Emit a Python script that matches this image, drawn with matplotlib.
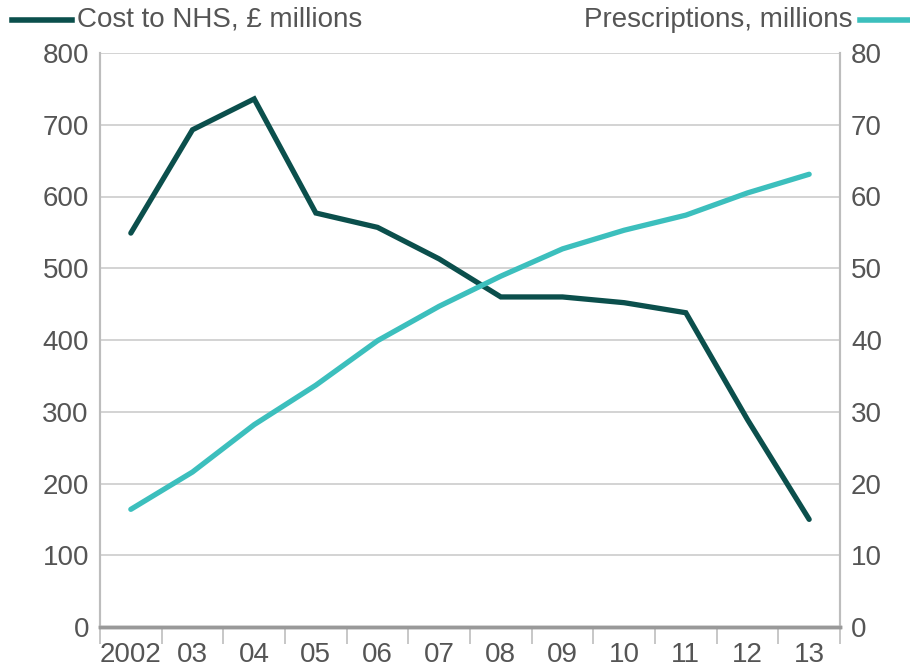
import matplotlib
matplotlib.use("Agg")
import matplotlib.pyplot as plt
import numpy as np

plt.rcParams['font.family'] = ['Liberation Sans', 'DejaVu Sans']

years = ["2002", "03", "04", "05", "06", "07", "08", "09", "10", "11", "12", "13"]
cost = [549, 693, 736, 577, 557, 513, 460, 460, 452, 438, 289, 150]
prescriptions = [16.4, 21.6, 28.2, 33.7, 39.9, 44.7, 48.9, 52.7, 55.3, 57.4, 60.5, 63.1]

dark = "#0b4f4c"
light = "#3cbfbd"
grey_text = "#555555"
axis_grey = "#bdbdbd"
fs = 20

fig = plt.figure(figsize=(9.1, 6.71), dpi=100)
ax = fig.add_axes([100 / 910, 1 - 627 / 671, 740 / 910, 574 / 671])
ax2 = ax.twinx()

x = np.arange(len(years))
ax.plot(x, cost, color=dark, lw=3.8, solid_capstyle="round", solid_joinstyle="miter", zorder=3)
ax2.plot(x, prescriptions, color=light, lw=3.8, solid_capstyle="round", zorder=3)

ax.set_xlim(-0.5, len(years) - 0.5)
ax.set_ylim(0, 800)
ax2.set_ylim(0, 80)
ax.set_yticks(range(0, 801, 100))
ax2.set_yticks(range(0, 81, 10))

ax.set_xticks(x)
ax.set_xticklabels(years)
ax.set_xticks(np.arange(-0.5, len(years), 1), minor=True)
ax.tick_params(axis="x", which="major", length=0, pad=11, labelsize=fs, labelcolor=grey_text)
ax.tick_params(axis="x", which="minor", length=12, width=1.2, color=axis_grey)
ax.tick_params(axis="y", length=0, pad=8, labelsize=fs, labelcolor=grey_text)
ax2.tick_params(axis="y", length=0, pad=8, labelsize=fs, labelcolor=grey_text)

ax.grid(axis="y", color="#cccccc", lw=1.2, zorder=0)
for a in (ax, ax2):
    a.spines["top"].set_visible(False)
    for s in ("left", "right"):
        a.spines[s].set_color(axis_grey)
        a.spines[s].set_linewidth(1.5)
    a.spines["bottom"].set_color("#999999")
    a.spines["bottom"].set_linewidth(2.5)

# legend at top
ly = 1 - 20 / 671
fig.lines.append(plt.Line2D([12 / 910, 72 / 910], [ly, ly], color=dark, lw=4,
                            transform=fig.transFigure))
fig.text(77 / 910, ly, "Cost to NHS, £ millions", fontsize=fs, color=grey_text,
         va="center", ha="left")
fig.lines.append(plt.Line2D([860 / 910, 908 / 910], [ly, ly], color=light, lw=4,
                            transform=fig.transFigure))
fig.text(853 / 910, ly, "Prescriptions, millions", fontsize=fs, color=grey_text,
         va="center", ha="right")

fig.savefig("out.png", dpi=100)
